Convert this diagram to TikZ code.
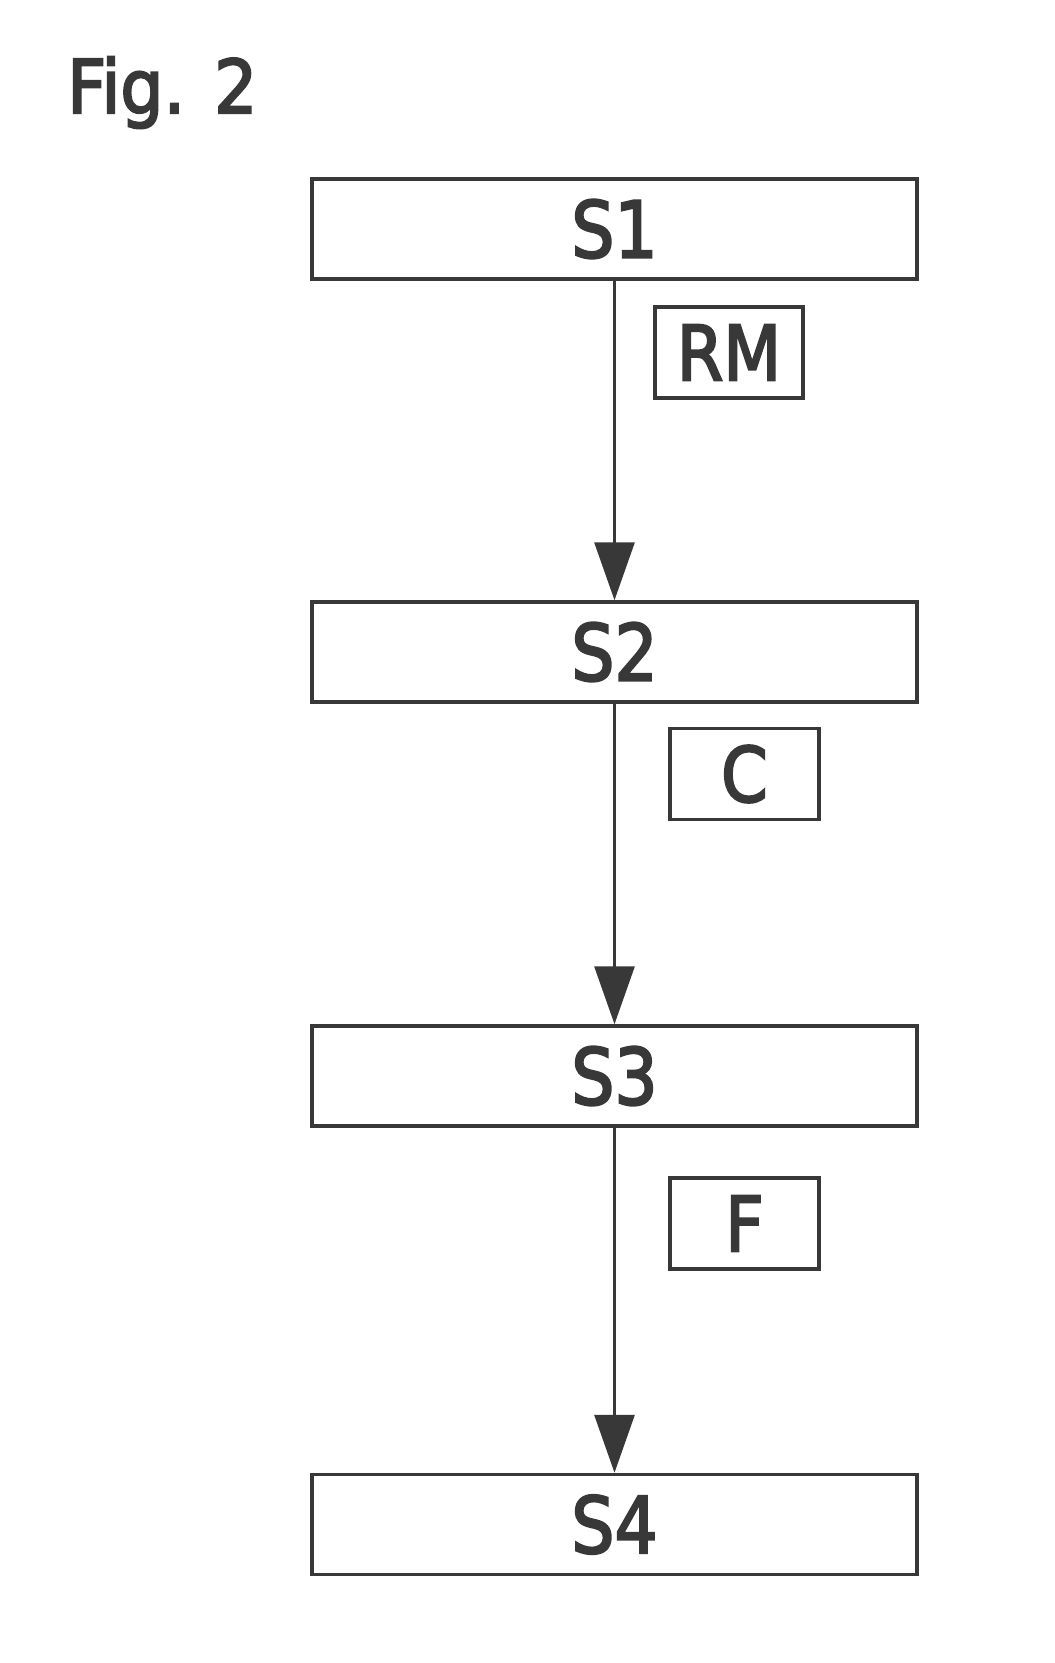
\documentclass[tikz,border=0pt]{standalone}
\usepackage{fontspec}
\setmainfont[FakeBold=3]{DejaVu Sans}
\usetikzlibrary{arrows.meta}
\definecolor{ink}{gray}{0.22}
\newcommand{\lbl}[2]{\scalebox{#1}[1]{#2}}
\tikzset{
  stepbox/.style={draw=ink, line width=3.5pt, minimum width=605pt, minimum height=100pt,
    inner sep=0pt, text=ink, font=\fontsize{78}{80}\selectfont},
  tagbox/.style={draw=ink, line width=3.2pt, minimum width=149pt, minimum height=91pt,
    inner sep=0pt, text=ink, font=\fontsize{76}{78}\selectfont},
  conn/.style={draw=ink, line width=3pt, -{Triangle[length=58pt,width=40pt]}}
}
\begin{document}
\begin{tikzpicture}[x=1pt,y=-1pt]
\useasboundingbox (0,0) rectangle (1055,1663);
\node[anchor=base west, inner sep=0pt, text=ink, font=\fontsize{74}{76}\selectfont] (fig) at (67,113) {\lbl{0.92}{Fig. 2}};
\node[stepbox] (s1) at (614.5,229) {\lbl{0.87}{S1}};
\node[stepbox] (s2) at (614.5,652) {\lbl{0.87}{S2}};
\node[stepbox] (s3) at (614.5,1076) {\lbl{0.87}{S3}};
\node[stepbox] (s4) at (614.5,1524.5) {\lbl{0.87}{S4}};
\node[tagbox, minimum width=148pt] (rm) at (729,352.5) {\lbl{0.88}{RM}};
\node[tagbox] (c) at (744.5,774) {\lbl{0.88}{C}};
\node[tagbox] (f) at (744.5,1223.5) {\lbl{0.88}{F}};
\draw[conn] (s1.south) -- (s2.north);
\draw[conn] (s2.south) -- (s3.north);
\draw[conn] (s3.south) -- (s4.north);
\end{tikzpicture}
\end{document}
